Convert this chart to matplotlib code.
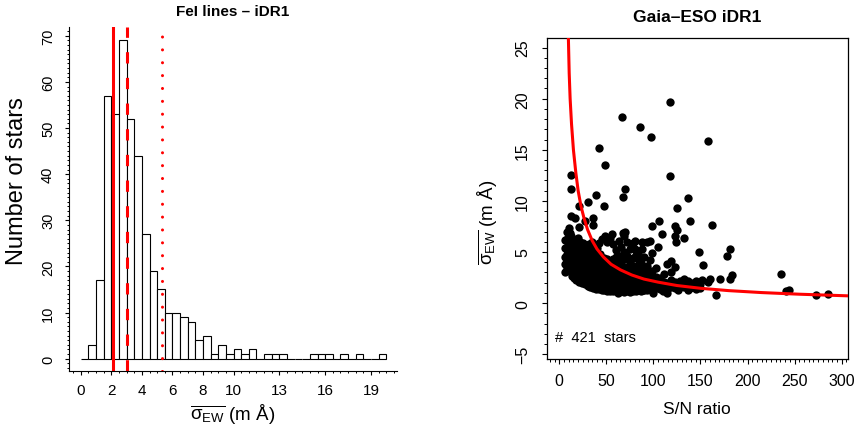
import matplotlib
matplotlib.use("Agg")
import matplotlib.pyplot as plt
from matplotlib.ticker import FixedLocator, MultipleLocator
import numpy as np

plt.rcParams['font.family'] = ['Liberation Sans', 'DejaVu Sans']
plt.rcParams['mathtext.fontset'] = 'custom'
plt.rcParams['mathtext.rm'] = 'Liberation Sans'
plt.rcParams['mathtext.it'] = 'Liberation Sans'
plt.rcParams['mathtext.bf'] = 'Liberation Sans:bold'

### FeI sigma_EW histogram, 0.5 mA bins from 0 to 20 ###
bin_width = 0.5
counts = [0, 3, 17, 57, 53, 69, 52, 44, 27, 19, 15, 10, 10, 9, 8, 4, 5,
          1, 3, 1, 2, 1, 2, 0, 1, 1, 1, 0, 0, 0, 1, 1, 1, 0, 1, 0, 1, 0, 0, 1]
xtick_vals = [0, 2, 4, 6, 8, 10, 13, 16, 19]
ew_lines = [2.13, 3.05, 5.32]          # solid, dashed, dotted

### sigma_EW vs S/N, isolated stars ###
sn_iso = [118, 67, 86, 97, 158, 42, 49, 12.4, 118, 12.8, 70, 68, 39, 137, 31,
          20.5, 48, 125, 12.4, 16.6, 36, 27, 106, 139, 98, 123, 162, 10, 20.5,
          125, 109, 132, 70, 123, 123.6, 148, 181, 178, 105, 98, 153, 119, 123,
          114, 171, 181, 183, 160, 158, 166, 236, 241, 244, 273, 286, 150, 149,
          142, 137, 139, 114, 89, 103,
          11.4, 36.1, 48.6, 55.7, 68, 80.4, 87.6, 96.4, 80, 87.6, 93.5]
ew_iso = [19.7, 18.2, 17.2, 16.3, 15.9, 15.2, 13.5, 12.5, 12.4, 11.2, 11.2, 10.4,
          10.6, 10.3, 9.9, 9.5, 9.5, 9.35, 8.5, 8.3, 8.3, 8.0, 8.0, 8.05, 7.5,
          7.55, 7.6, 7.3, 7.4, 7.2, 6.75, 6.4, 7.0, 6.6, 6.0, 5.0, 5.3, 4.65,
          5.45, 4.95, 3.75, 4.15, 3.5, 3.8, 2.35, 2.4, 2.75, 2.4, 2.05, 0.75,
          2.8, 1.15, 1.3, 0.8, 0.9, 1.9, 1.45, 1.7, 1.9, 1.5, 1.0, 1.25, 1.6,
          6.9, 7.6, 6.6, 6.8, 6.9, 6.1, 6.0, 6.1, 5.3, 5.3, 5.95]

# the crowded low S/N part, one column of stars per S/N value
sn_cols = [6, 8, 10, 12, 14, 16, 18, 19.5, 21, 22.5, 24, 25.5, 27, 28.5, 30,
           31.5, 33, 34.5, 36, 37.5, 39, 40.5, 42, 43.5, 45, 48, 51, 54, 57,
           60, 63, 66, 69, 72, 75, 78, 81, 84, 87, 90, 93, 96, 99, 103, 107,
           111, 115, 119, 123, 128, 133, 145, 137, 141, 152, 126, 131, 110,
           100, 62]
ew_cols = [
    [3.0, 3.8, 4.5, 5.4, 6.2],
    [3.4, 4.1, 4.8, 5.5, 6.3, 7.0],
    [3.2, 3.7, 4.2, 4.7, 5.2, 5.7, 6.2, 6.8],
    [3.0, 3.45, 3.9, 4.35, 4.8, 5.25, 5.7, 6.15, 6.6],
    [2.7, 3.15, 3.6, 4.05, 4.5, 4.95, 5.4, 5.85, 6.3],
    [2.5, 2.95, 3.4, 3.85, 4.3, 4.75, 5.2, 5.65, 6.1],
    [2.3, 2.75, 3.2, 3.65, 4.1, 4.55, 5.0, 5.45, 5.9],
    [2.6, 3.5, 4.3, 5.2, 6.4],
    [2.1, 2.55, 3.0, 3.45, 3.9, 4.35, 4.8, 5.25, 5.7],
    [2.4, 3.3, 4.1, 5.0, 6.0],
    [2.0, 2.45, 2.9, 3.35, 3.8, 4.25, 4.7, 5.15, 5.6],
    [2.2, 3.1, 3.9, 4.8, 5.9],
    [1.85, 2.3, 2.75, 3.2, 3.65, 4.1, 4.55, 5.0, 5.5],
    [2.0, 2.9, 3.8, 4.6, 5.3],
    [1.7, 2.15, 2.6, 3.05, 3.5, 3.95, 4.4, 4.85, 5.3],
    [1.9, 2.8, 3.7, 4.5, 5.8],
    [1.6, 2.05, 2.5, 2.95, 3.4, 3.85, 4.3, 4.75, 5.2],
    [1.8, 2.7, 3.6, 4.4, 6.0],
    [1.5, 1.95, 2.4, 2.85, 3.3, 3.75, 4.2, 4.65, 5.6],
    [1.7, 2.6, 3.5, 4.3, 5.0],
    [1.4, 1.85, 2.3, 2.75, 3.2, 3.65, 4.1, 4.55, 5.0],
    [1.6, 2.5, 3.4, 4.2, 5.4],
    [1.35, 1.8, 2.25, 2.7, 3.15, 3.6, 4.05, 4.5, 5.9],
    [1.5, 2.4, 3.3, 4.1, 4.8],
    [1.3, 1.75, 2.2, 2.65, 3.1, 3.55, 4.0, 4.45, 6.3],
    [1.25, 1.7, 2.15, 2.6, 3.05, 3.5, 3.95, 4.4],
    [1.2, 1.65, 2.1, 2.55, 3.0, 3.45, 3.9, 4.35, 6.0],
    [1.2, 1.65, 2.1, 2.55, 3.0, 3.45, 3.9, 6.4],
    [1.15, 1.6, 2.05, 2.5, 2.95, 3.4, 3.85, 4.3, 5.8],
    [1.2, 1.65, 2.1, 2.55, 3.0, 3.45, 3.9, 4.5, 5.2],
    [1.1, 1.55, 2.0, 2.45, 2.9, 3.35, 3.8, 4.6, 6.1],
    [1.15, 1.6, 2.05, 2.5, 2.95, 3.4, 3.9, 5.5],
    [1.1, 1.55, 2.0, 2.45, 2.9, 3.35, 4.3, 5.0, 6.6],
    [1.2, 1.65, 2.1, 2.55, 3.0, 3.5, 4.6, 6.0],
    [1.1, 1.55, 2.0, 2.45, 2.9, 3.4, 4.0, 5.3],
    [1.2, 1.65, 2.1, 2.55, 3.05, 3.6, 4.4, 5.9],
    [1.15, 1.6, 2.05, 2.5, 3.0, 3.5, 4.7],
    [1.25, 1.7, 2.15, 2.6, 3.1, 3.7, 4.3, 5.0],
    [1.2, 1.65, 2.1, 2.6, 3.2, 3.9],
    [1.3, 1.75, 2.2, 2.7, 3.3, 4.5],
    [1.25, 1.7, 2.2, 2.8, 3.6],
    [1.35, 1.8, 2.3, 2.9, 4.2],
    [1.3, 1.8, 2.4, 3.1],
    [1.45, 2.0, 2.6, 3.4],
    [1.4, 1.9, 2.5],
    [1.5, 2.1, 2.8],
    [1.45, 2.0],
    [1.6, 2.3, 3.0],
    [1.5, 2.1],
    [1.6, 2.2],
    [1.55, 2.4],
    [1.4, 2.2],
    [1.3, 2.2],
    [2.0],
    [2.3],
    [1.3],
    [1.9],
    [1.2],
    [1.0],
    [0.95],
]

# expected sigma_EW for a given S/N (red curve)
curve_sn = [9.5, 10.5, 11.5, 13, 15, 17.5, 20, 23, 26, 30, 35, 40, 47, 55, 65,
            77, 90, 105, 125, 150, 180, 215, 255, 310]
curve_ew = [26.5, 22.5, 20.0, 17.5, 15.0, 12.8, 11.0, 9.5, 8.4, 7.2, 6.1, 5.3,
            4.5, 3.8, 3.25, 2.75, 2.35, 2.05, 1.72, 1.45, 1.22, 1.03, 0.87, 0.7]

sn = list(sn_iso)
ew = list(ew_iso)
for s, col in zip(sn_cols, ew_cols):
    sn += [s] * len(col)
    ew += col
n_stars = int(sum(counts))

W, H = 857, 431
fig = plt.figure(figsize=(W / 100, H / 100), dpi=100)


def fig_box(left, top, right, bottom):
    return [left / W, 1 - bottom / H, (right - left) / W, (bottom - top) / H]


def px(x, y):
    return x / W, 1 - y / H


### left panel ###
ax1 = fig.add_axes(fig_box(69, 28, 397, 372))
edges = np.arange(len(counts)) * bin_width
ax1.bar(edges, counts, width=bin_width, align='edge', color='white',
        edgecolor='black', linewidth=0.8)
ax1.axvline(ew_lines[0], color='red', lw=2.2)
ax1.axvline(ew_lines[1], color='red', lw=2.2, linestyle=(0, (3.7, 4.7)))
ax1.axvline(ew_lines[2], color='red', lw=2.2, linestyle=(0, (0.01, 4.2)),
            dash_capstyle='round')
ax1.set_xlim(-0.77, 20.7)
ax1.set_ylim(-2.67, 71.9)
for side in ['top', 'right']:
    ax1.spines[side].set_visible(False)
ax1.xaxis.set_major_locator(FixedLocator(xtick_vals))
ax1.xaxis.set_minor_locator(MultipleLocator(0.5))
ax1.yaxis.set_major_locator(MultipleLocator(10))
ax1.yaxis.set_minor_locator(MultipleLocator(1))
ax1.tick_params(which='major', length=3, width=0.8, labelsize=11)
ax1.tick_params(which='minor', length=1.6, width=0.7)
ax1.tick_params(axis='x', which='major', pad=6)
ax1.tick_params(axis='y', which='major', pad=7, labelrotation=90, labelsize=10.5)
plt.setp(ax1.get_yticklabels(), va='center')

fig.text(*px(233, 12), 'FeI lines \u2013 iDR1', ha='center', va='center',
         fontsize=11, fontweight='bold')
fig.text(*px(233, 414), r'$\overline{\sigma_{\mathrm{EW}}}$ (m Å)',
         ha='center', va='center', fontsize=13.5)
fig.text(*px(17, 181), 'Number of stars', ha='center', va='center',
         rotation=90, fontsize=17)

### right panel ###
ax2 = fig.add_axes(fig_box(546.7, 39.3, 848.3, 360))
ax2.scatter(sn, ew, s=36, c='black', linewidths=0, zorder=2)
ax2.plot(curve_sn, curve_ew, color='red', lw=2.2, zorder=3)
ax2.set_xlim(-13.4, 307.1)
ax2.set_ylim(-5.47, 25.91)
ax2.xaxis.set_major_locator(MultipleLocator(50))
ax2.xaxis.set_minor_locator(MultipleLocator(5))
ax2.yaxis.set_major_locator(MultipleLocator(5))
ax2.yaxis.set_minor_locator(MultipleLocator(1))
ax2.tick_params(which='major', length=3.6, width=0.8, labelsize=11.5)
ax2.tick_params(which='minor', length=2.0, width=0.7)
ax2.tick_params(axis='x', which='major', pad=6.5)
ax2.tick_params(axis='y', which='major', pad=8.5, labelrotation=90)
plt.setp(ax2.get_yticklabels(), va='center')
for sp in ax2.spines.values():
    sp.set_linewidth(0.9)
ax2.text(0.0275, 0.0686, f'#  {n_stars}  stars', transform=ax2.transAxes,
         ha='left', va='center', fontsize=10.5)

fig.text(*px(696.7, 17), 'Gaia\u2013ESO iDR1', ha='center', va='center',
         fontsize=12.5, fontweight='bold')
fig.text(*px(696.5, 410), 'S/N ratio', ha='center', va='center', fontsize=12.5)
fig.text(*px(487, 222), r'$\overline{\sigma_{\mathrm{EW}}}$ (m Å)',
         ha='center', va='center', rotation=90, fontsize=13.5)

fig.savefig('out.png', dpi=100)
